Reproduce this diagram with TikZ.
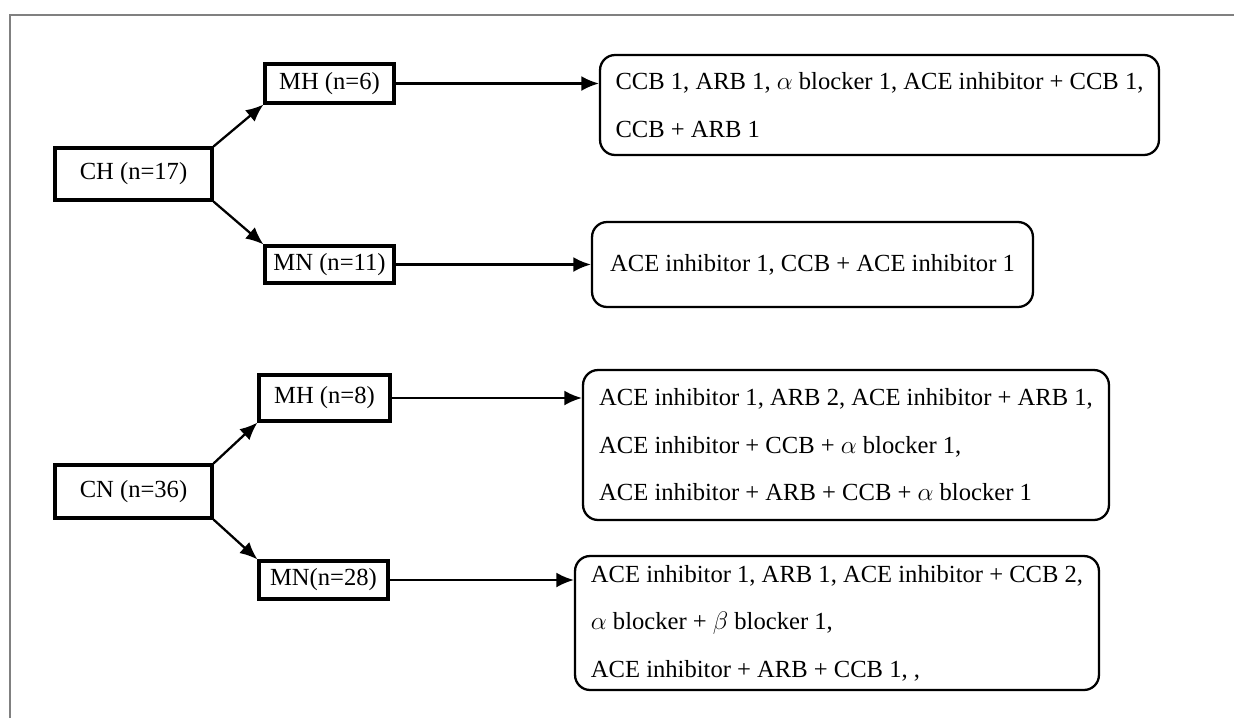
\documentclass[tikz,border=0pt]{standalone}
\usepackage{fontspec}
\setmainfont{Liberation Serif}
\usetikzlibrary{positioning,arrows.meta}

\begin{document}
\begin{tikzpicture}[x=0.02cm, y=-0.02cm,
    groupnode/.style={draw, line width=1.8pt, minimum width=2.58cm, minimum height=0.78cm, inner sep=0pt, font=\fontsize{14}{16}\selectfont},
    drugnode/.style={draw, line width=1.3pt, rounded corners=0.3cm, align=left, inner sep=0pt, font=\fontsize{14}{27}\selectfont},
    arr/.style={-{Latex[length=10pt,width=8.5pt]}, line width=1.3pt},]
    \useasboundingbox (0,0) rectangle (1234,718);
    % frame
    \draw[gray, line width=0.9pt] (10,718) -- (10,15) -- (1234,15);
    % nodes
    \node[groupnode, minimum width=3.14cm, minimum height=1.04cm] (CH)   at (133.5,174)   {CH (n=17)};
    \node[groupnode]                                               (MH6)  at (329.5,83.5)  {MH (n=6)};
    \node[groupnode, minimum height=0.74cm]                        (MN11) at (329.5,264.5) {MN (n=11)};
    \node[groupnode, minimum width=3.14cm, minimum height=1.06cm] (CN)   at (133.5,491.5) {CN (n=36)};
    \node[groupnode, minimum width=2.62cm, minimum height=0.92cm] (MH8)  at (324.5,398)   {MH (n=8)};
    \node[groupnode, minimum height=0.76cm]                        (MN28) at (323.5,580)   {MN(n=28)};
    \node[drugnode, minimum width=11.18cm, minimum height=2cm]     (CHMH) at (879.5,105)   {CCB 1, ARB 1, $\alpha$ blocker 1, ACE inhibitor + CCB 1,\\CCB + ARB 1};
    \node[drugnode, minimum width=8.82cm, minimum height=1.7cm]    (CHMN) at (812.5,264.5) {ACE inhibitor 1, CCB + ACE inhibitor 1};
    \node[drugnode, minimum width=10.52cm, minimum height=3cm]     (CNMH) at (846,445)     {ACE inhibitor 1, ARB 2, ACE inhibitor + ARB 1,\\ACE inhibitor + CCB + $\alpha$ blocker 1,\\ACE inhibitor + ARB + CCB + $\alpha$ blocker 1};
    \node[drugnode, minimum width=10.48cm, minimum height=2.68cm]  (CNMN) at (837,623)     {ACE inhibitor 1, ARB 1, ACE inhibitor + CCB 2,\\$\alpha$ blocker + $\beta$ blocker 1,\\ACE inhibitor + ARB + CCB 1, ,};
    % lines
    \draw[arr] (CH.north east) -- (MH6.south west);
    \draw[arr] (CH.south east) -- (MN11.north west);
    \draw[arr] (CN.north east) -- (MH8.south west);
    \draw[arr] (CN.south east) -- (MN28.north west);
    \draw[arr] (MH6.east) -- (MH6.east -| CHMH.west);
    \draw[arr] (MN11.east) -- (MN11.east -| CHMN.west);
    \draw[arr] (MH8.east) -- (MH8.east -| CNMH.west);
    \draw[arr] (MN28.east) -- (MN28.east -| CNMN.west);
\end{tikzpicture}
\end{document}
